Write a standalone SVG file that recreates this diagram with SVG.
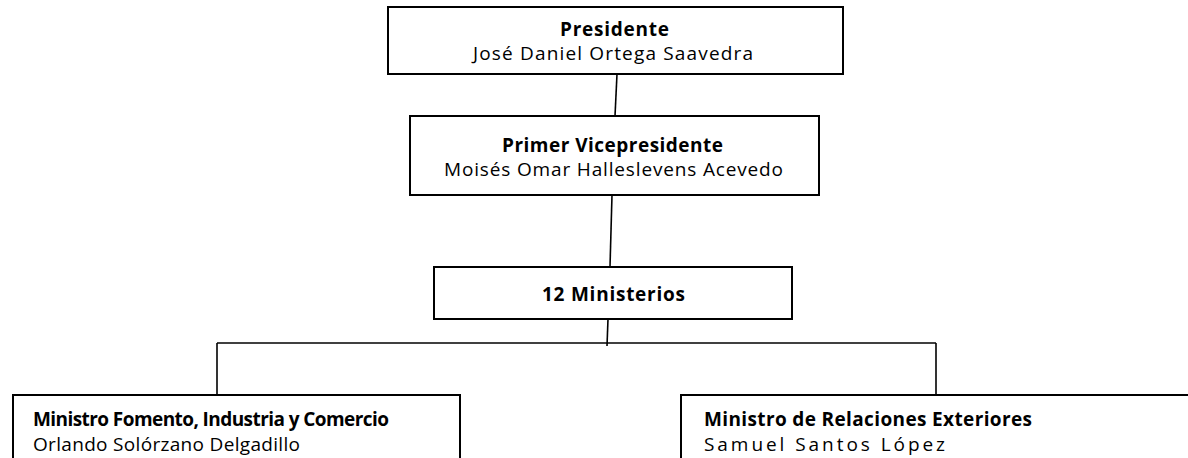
<svg xmlns="http://www.w3.org/2000/svg" width="1188" height="458" viewBox="0 0 1188 458">
<style>
.box{fill:#fff;stroke:#000;stroke-width:2}
.ln{stroke:#000;stroke-width:1.6;fill:none}
text{font-family:"Open Sans","Liberation Sans",sans-serif;font-size:19px;fill:#000}
.b{font-weight:bold}
</style>
<rect width="1188" height="458" fill="#fff"/>
<g id="connectors">
<line class="ln" x1="617" y1="74" x2="615" y2="116"/>
<line class="ln" x1="612" y1="195" x2="610" y2="267"/>
<line class="ln" x1="608" y1="319" x2="607" y2="346"/>
<line class="ln" x1="217" y1="343" x2="936" y2="343"/>
<line class="ln" x1="217" y1="343" x2="217" y2="395"/>
<line class="ln" x1="936" y1="343" x2="936" y2="395"/>
</g>
<g id="presidente">
<rect class="box" x="388" y="7" width="455" height="67"/>
<text class="b" x="560" y="36" font-size="16" textLength="109">Presidente</text>
<text x="473" y="60" textLength="280">José Daniel Ortega Saavedra</text>
</g>
<g id="vicepresidente">
<rect class="box" x="410" y="116" width="409" height="79"/>
<text class="b" x="502" y="152" font-size="17" textLength="221">Primer Vicepresidente</text>
<text x="444" y="176" textLength="339">Moisés Omar Halleslevens Acevedo</text>
</g>
<g id="ministerios">
<rect class="box" x="434" y="267" width="358" height="52"/>
<text class="b" x="542" y="301" font-size="17" textLength="143">12 Ministerios</text>
</g>
<g id="fomento">
<rect class="box" x="13" y="395" width="447" height="80"/>
<text class="b" x="33" y="426" font-size="18" textLength="356">Ministro Fomento, Industria y Comercio</text>
<text x="33" y="451" textLength="267">Orlando Solórzano Delgadillo</text>
</g>
<g id="exteriores">
<rect class="box" x="681" y="395" width="520" height="80"/>
<text class="b" x="704" y="426" font-size="18" textLength="328">Ministro de Relaciones Exteriores</text>
<text x="704" y="451" textLength="241">Samuel Santos López</text>
</g>
</svg>
